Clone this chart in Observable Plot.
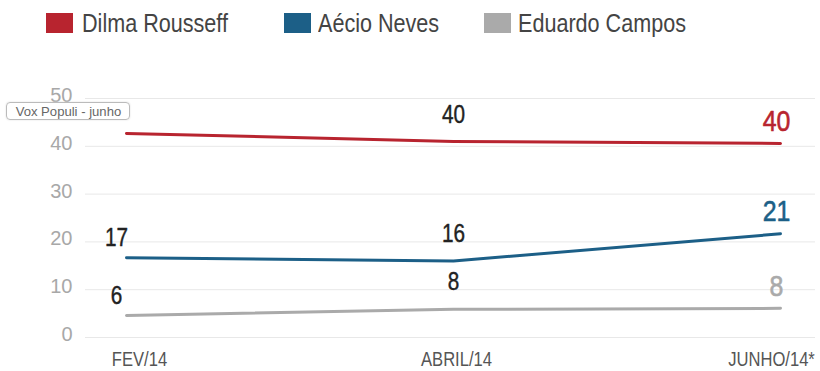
<!DOCTYPE html>
<html>
<head>
<meta charset="utf-8">
<script src="https://cdn.jsdelivr.net/npm/d3@7"></script>
<script src="https://cdn.jsdelivr.net/npm/@observablehq/plot@0.6"></script>
<style>
  html, body { margin: 0; padding: 0; background: #fff; }
  #wrap { position: relative; width: 820px; height: 371px; overflow: hidden;
    font-family: "Liberation Sans", Arial, sans-serif; }
  #legend { position: relative; height: 60px; }
  .sw { position: absolute; top: 13px; width: 27px; height: 20px; }
  .lt { position: absolute; top: 7px; font-size: 26px; line-height: 32px; color: #444; white-space: nowrap;
    transform: scaleX(0.83); transform-origin: 0 50%; }
  #tip { position: absolute; left: 6px; top: 102px; width: 124px; height: 18px; border: 1px solid #bbb;
    border-radius: 4px; background: rgba(255,255,255,0.92);
    font-size: 13.5px; line-height: 17px; color: #666; text-align: center; z-index: 5; box-shadow: 0 0 2px #ddd;
    box-sizing: border-box; }
  #tip span { display: inline-block; transform: scaleX(0.97); }
  #chart svg { display: block; }
</style>
</head>
<body>
<div id="wrap">
  <div id="legend"></div>
  <div id="chart"></div>
  <div id="tip"><span>Vox Populi - junho</span></div>
</div>
<script>
// ---- data ----
const months = ["FEV/14", "ABRIL/14", "JUNHO/14*"];
const seriesNames = ["Dilma Rousseff", "Aécio Neves", "Eduardo Campos"];
const seriesColors = ["#b8242f", "#1c5f87", "#aaaaaa"];
// line positions as drawn in the picture
const dilmaValues = [42.7, 41, 40.6];
const aecioValues = [16.7, 16, 21.7];
const eduardoValues = [4.6, 5.9, 6.1];
// labels printed on the chart
const dilmaLabels = [null, "40", "40"];
const aecioLabels = ["17", "16", "21"];
const eduardoLabels = ["6", "8", "8"];
const yTicks = [0, 10, 20, 30, 40, 50];

// ---- build table ----
const valuesBySeries = [dilmaValues, aecioValues, eduardoValues];
const labelsBySeries = [dilmaLabels, aecioLabels, eduardoLabels];
const rows = [];
seriesNames.forEach((s, i) => {
  months.forEach((m, j) => {
    rows.push({series: s, month: m, value: valuesBySeries[i][j], label: labelsBySeries[i][j], idx: j});
  });
});

// ---- legend ----
const legend = document.getElementById("legend");
const swX = [46, 284, 484];
const txX = [82, 318, 518];
seriesNames.forEach((s, i) => {
  const sw = document.createElement("div");
  sw.className = "sw"; sw.style.left = swX[i] + "px"; sw.style.background = seriesColors[i];
  legend.appendChild(sw);
  const t = document.createElement("div");
  t.className = "lt"; t.style.left = txX[i] + "px"; t.textContent = s;
  legend.appendChild(t);
});

const colorOf = new Map(seriesNames.map((s, i) => [s, seriesColors[i]]));
const xLabelShift = [13, 3, -9];

const chart = Plot.plot({
  width: 820,
  height: 311,
  marginTop: 38,
  marginBottom: 34,
  marginLeft: 85,
  marginRight: 5,
  style: {fontFamily: "Liberation Sans, Arial, sans-serif", background: "transparent"},
  x: {type: "point", domain: months, range: [125, 780], padding: 0, axis: null},
  y: {domain: [0, 50]},
  marks: [
    Plot.ruleY(yTicks, {stroke: "#e8e8e8", strokeWidth: 1}),
    Plot.axisY(yTicks, {tickSize: 0, tickPadding: 13, fontSize: 20, fill: "#a8a8a8", dy: -3, label: null}),
    ...months.map((m, j) => Plot.text([m], {x: d => d, frameAnchor: "bottom", lineAnchor: "middle",
      dy: 22, dx: xLabelShift[j], fontSize: 20, fill: "#555", className: "narrow"})),
    Plot.line(rows, {x: "month", y: "value", z: "series", stroke: d => colorOf.get(d.series), strokeWidth: 3}),
    Plot.text(rows.filter(d => d.label && d.idx === 0), {x: "month", y: "value", text: "label",
      dx: -10, dy: -20, fontSize: 25, fill: "#222", stroke: "#222", strokeWidth: 0.4, className: "narrow"}),
    Plot.text(rows.filter(d => d.label && d.idx === 1), {x: "month", y: "value", text: "label",
      dy: -27, fontSize: 25, fill: "#222", stroke: "#222", strokeWidth: 0.4, className: "narrow"}),
    Plot.text(rows.filter(d => d.label && d.idx === 2), {x: "month", y: "value", text: "label",
      dx: -4, dy: -22, fontSize: 30, fill: d => colorOf.get(d.series), stroke: d => colorOf.get(d.series),
      strokeWidth: 0.6, className: "narrow"})
  ]
});
document.getElementById("chart").appendChild(chart);

// condense text horizontally (narrow typeface look) around each text's anchor
chart.querySelectorAll(".narrow text").forEach(t => {
  const x = +(t.getAttribute("x") || 0);
  const tr = t.getAttribute("transform") || "";
  t.setAttribute("transform", `${tr} translate(${x},0) scale(0.83,1) translate(${-x},0)`);
});
</script>
</body>
</html>
